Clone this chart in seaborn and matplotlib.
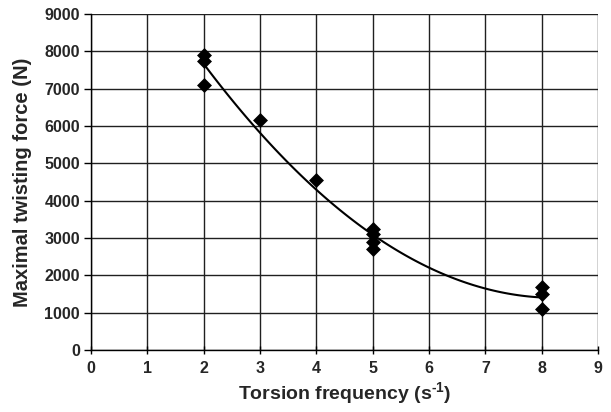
import matplotlib
matplotlib.use("Agg")
import matplotlib.pyplot as plt
import seaborn as sns
import pandas as pd
import numpy as np

freq = [2, 2, 2, 3, 4, 5, 5, 5, 5, 8, 8, 8]
force = [7900, 7750, 7100, 6150, 4550, 3250, 3100, 2900, 2700, 1700, 1500, 1100]
x_ticks = list(range(0, 10))
y_ticks = list(range(0, 10000, 1000))

df = pd.DataFrame({"freq": freq, "force": force})

sns.set_style("white")
plt.rcParams['font.family'] = ['Liberation Sans', 'DejaVu Sans']
plt.rcParams['font.weight'] = 'bold'
plt.rcParams['mathtext.fontset'] = 'custom'
plt.rcParams['mathtext.rm'] = 'Liberation Sans:bold'
plt.rcParams['mathtext.bf'] = 'Liberation Sans:bold'
plt.rcParams['mathtext.it'] = 'Liberation Sans:bold'

fig = plt.figure(figsize=(6.11, 4.12), dpi=100)
ax = fig.add_axes([0.149, 0.150, 0.830, 0.816])

sns.regplot(data=df, x="freq", y="force", order=2, ci=None, ax=ax, marker="D",
            scatter_kws=dict(s=58, color="black", linewidths=0, alpha=1, zorder=3),
            line_kws=dict(color="black", linewidth=1.5, zorder=2))

ax.set_xlim(0, 9)
ax.set_ylim(0, 9000)
ax.set_xticks(x_ticks)
ax.set_yticks(y_ticks)
ax.grid(True, color="#202020", linewidth=1.0)
ax.set_axisbelow(True)
for s in ["top", "right"]:
    ax.spines[s].set_visible(False)
for s in ["left", "bottom"]:
    ax.spines[s].set_color("black")
    ax.spines[s].set_linewidth(1.0)
ax.tick_params(axis="y", direction="out", length=5, width=1, color="black",
               labelsize=11.5, pad=3, left=True)
ax.tick_params(axis="x", direction="inout", length=6, width=1, color="black",
               labelsize=11.5, pad=5, bottom=True)
for lab in ax.get_xticklabels() + ax.get_yticklabels():
    lab.set_fontweight("bold")
ax.set_xlabel("Torsion frequency (s$^{\\text{-}1}$)", fontsize=14, fontweight="bold", labelpad=3)
ax.set_ylabel("Maximal twisting force (N)", fontsize=14.5, fontweight="bold", labelpad=9)

fig.savefig("out.png", dpi=100)
